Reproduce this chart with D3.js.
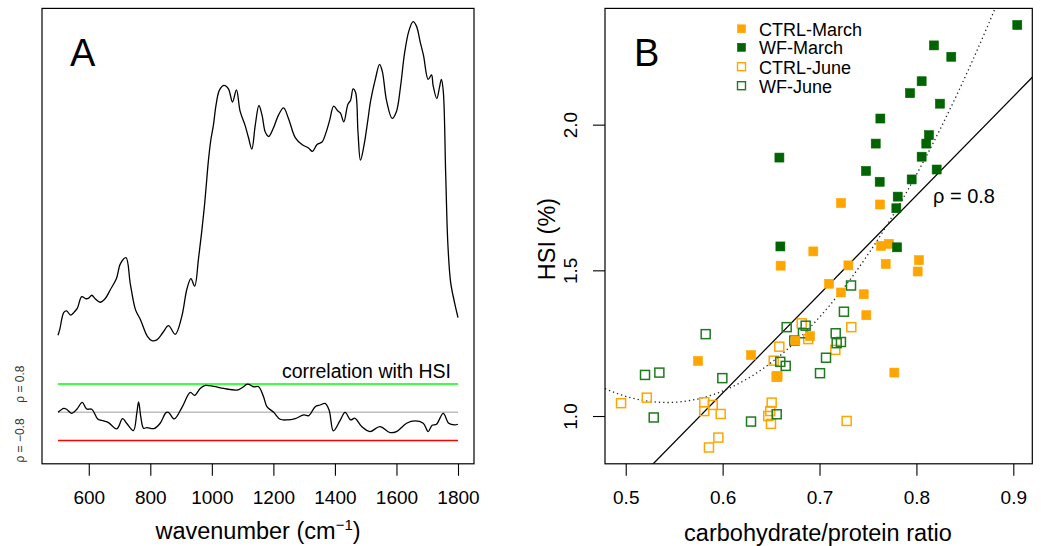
<!DOCTYPE html>
<html><head><meta charset="utf-8">
<script src="https://cdn.jsdelivr.net/npm/d3@7"></script>
<style>
body{margin:0;background:#fff;}
svg{display:block;font-family:"Liberation Sans",Arial,sans-serif;}
</style></head>
<body><svg id="c" width="1047" height="546"></svg>
<script>
// ---------- Panel A data ----------
const specWave = [500,506,519,528,541,552,563,577,591,600,610,621,637,653,670,690,703,721,735,752,768,790,805,821,841,859,881,902,919,932,944,957,975,989,997,1005,1014,1025,1040,1054,1067,1080,1092,1108,1119,1130,1141,1153,1163,1174,1185,1199,1217,1233,1249,1271,1293,1314,1327,1342,1358,1372,1383,1396,1409,1418,1429,1442,1451,1459,1467,1475,1483,1494,1507,1516,1532,1545,1554,1568,1586,1600,1613,1626,1640,1654,1665,1677,1688,1703,1714,1719,1731,1740,1746,1752,1760,1767,1776,1789,1800];
const specValue = [3.7,5.5,10.3,10.7,9.5,10.3,11.5,14.8,14.2,14.4,15.2,14.2,13.2,14.2,16.8,20,24.3,26,18.5,11,8.2,3.5,2.2,2.4,4.5,6.5,4,9,17,20,17.8,26,40,54,60,64,70,74.2,75.5,74.5,70.7,74.2,68,64,60.5,57.2,64,69.7,67,62,60.8,63,67,69,66,60.5,58.5,57.5,56.5,58.5,59.2,62.2,65.5,69.5,68.2,67.5,65,70,71.2,74.5,73.5,62,54,58,65.5,71,77.5,81.5,79.5,71,66,68,75,84.5,91,93.8,92.5,88,84,77.2,78.5,75.5,71.7,75,77.2,74,50,30,19,13,8.8];
const corrWave = [500,519,528,544,561,579,593,610,629,648,664,691,710,723,745,756,762,769,778,789,812,832,851,859,878,903,930,944,962,979,1006,1038,1082,1098,1116,1136,1152,1168,1179,1201,1222,1244,1271,1299,1315,1336,1352,1368,1381,1395,1416,1433,1451,1465,1487,1514,1546,1579,1600,1633,1660,1687,1703,1716,1730,1752,1770,1789,1800];
const corrRho = [0,0.113,0.085,-0.028,0.085,0.282,0.094,0.085,-0.188,-0.245,-0.292,-0.47,-0.179,-0.31,-0.518,-0.028,0.292,-0.122,-0.452,-0.433,-0.461,-0.31,-0.009,0,-0.188,0.141,0.565,0.48,0.678,0.762,0.734,0.678,0.631,0.696,0.8,0.725,0.725,0.442,0.16,0,-0.198,-0.216,-0.179,-0.075,-0.094,0.16,0.207,0.254,0.066,-0.527,-0.245,0,-0.216,-0.169,-0.405,-0.546,-0.405,-0.574,-0.546,-0.31,-0.245,-0.31,-0.546,-0.367,-0.339,-0.028,-0.31,-0.358,-0.339];
const refRho = [0.8, 0, -0.8];
const refColors = ["#00ff00", "#bebebe", "#ff0000"];
const xTicksA = [600,800,1000,1200,1400,1600,1800];

// ---------- Panel B data ----------
const ctrlMarchX = [0.7222,0.7624,0.6936,0.6599,0.7298,0.7635,0.7717,0.7683,0.8027,0.8013,0.7098,0.7222,0.7456,0.7483,0.6902,0.6751,0.6293,0.5746,0.6568,0.7772];
const ctrlMarchY = [1.731,1.726,1.565,1.516,1.517,1.584,1.591,1.522,1.535,1.496,1.454,1.424,1.418,1.346,1.274,1.259,1.209,1.189,1.137,1.149];
const wfMarchX = [0.9041,0.8181,0.836,0.8054,0.7934,0.8243,0.7628,0.758,0.813,0.8102,0.8054,0.6586,0.748,0.8209,0.7621,0.7951,0.7807,0.7793,0.6596,0.78];
const wfMarchY = [2.342,2.272,2.233,2.149,2.108,2.072,2.021,1.935,1.964,1.935,1.890,1.887,1.841,1.846,1.804,1.812,1.753,1.713,1.582,1.579];
const ctrlJuneX = [0.4952,0.5217,0.5811,0.5898,0.5811,0.598,0.5956,0.5859,0.6506,0.6492,0.6471,0.6499,0.728,0.6585,0.6527,0.6558,0.6816,0.6884,0.7163,0.7328];
const ctrlJuneY = [1.044,1.063,1.047,1.038,1.017,1.007,0.926,0.892,1.046,1.017,1.000,0.973,0.983,1.238,1.190,1.135,1.318,1.264,1.227,1.305];
const wfJuneX = [0.5199,0.5347,0.5825,0.5997,0.5289,0.6293,0.6558,0.6661,0.6595,0.6651,0.674,0.6829,0.6857,0.7005,0.7067,0.7167,0.7177,0.7221,0.7252,0.7325];
const wfJuneY = [1.141,1.149,1.281,1.130,0.995,0.981,1.006,1.305,1.186,1.172,1.259,1.284,1.310,1.147,1.200,1.284,1.250,1.254,1.358,1.448];
const xTicksB = [0.5,0.6,0.7,0.8,0.9];
const yTicksB = [1.0,1.5,2.0];
const linCoef = [-0.955, 3.39];          // HSI = a + b*ratio
const quadCoef = [4.511, -12.777, 11.78]; // HSI = c0 + c1*r + c2*r^2
const legendLabels = ["CTRL-March","WF-March","CTRL-June","WF-June"];

const svg = d3.select("#c");
const ORANGE = "#ffa500", DGREEN = "#006400", OGREEN = "#1f7a1f";

// ================= Panel A =================
const boxA = {l:42, r:474, t:8.4, b:463.8};
const xA = d3.scaleLinear().domain([448, 1852]).range([boxA.l, boxA.r]);
const ySpec = d3.scaleLinear().domain([0, 100]).range([348.2, 0]);
const yCorr = d3.scaleLinear().domain([-0.8, 0.8]).range([440.5, 384.1]);

svg.append("rect").attr("x", boxA.l).attr("y", boxA.t).attr("width", boxA.r-boxA.l).attr("height", boxA.b-boxA.t)
  .attr("fill","none").attr("stroke","#000").attr("stroke-width",1.2);

const gAx = svg.append("g").attr("transform", `translate(0,${boxA.b})`)
  .call(d3.axisBottom(xA).tickValues(xTicksA).tickFormat(d3.format("d")).tickSize(12).tickPadding(15).tickSizeOuter(0));
gAx.select(".domain").remove();
gAx.selectAll("line").attr("stroke","#000").attr("stroke-width",1.1);
gAx.selectAll("text").attr("font-size",19).attr("fill","#000").attr("font-family","Liberation Sans, Arial, sans-serif");

const specLine = d3.line().x((d,i)=>xA(specWave[i])).y(d=>ySpec(d)).curve(d3.curveCatmullRom.alpha(0.5));
svg.append("path").attr("d", specLine(specValue)).attr("fill","none").attr("stroke","#000").attr("stroke-width",1.3);

refRho.forEach((r,i)=>{
  svg.append("line").attr("x1", xA(500)).attr("x2", xA(1800)).attr("y1", yCorr(r)).attr("y2", yCorr(r))
    .attr("stroke", refColors[i]).attr("stroke-width", 1.5);
});
const corrLine = d3.line().x((d,i)=>xA(corrWave[i])).y(d=>yCorr(d)).curve(d3.curveCatmullRom.alpha(0.5));
svg.append("path").attr("d", corrLine(corrRho)).attr("fill","none").attr("stroke","#000").attr("stroke-width",1.3);

svg.append("text").attr("x", 451).attr("y", 377.5).attr("text-anchor","end").attr("font-size",19.5).text("correlation with HSI");
svg.append("text").attr("x", 70).attr("y", 66).attr("font-size",38).text("A");

[[0.8,"ρ = 0.8"],[-0.8,"ρ = −0.8"]].forEach(([r,t])=>{
  svg.append("text").attr("transform", `translate(24,${yCorr(r)}) rotate(-90)`).attr("text-anchor","middle")
    .attr("font-size",12).attr("fill","#333").text(t);
});

const tA = svg.append("text").attr("x", 258).attr("y", 539).attr("text-anchor","middle").attr("font-size",23.5);
tA.append("tspan").text("wavenumber (cm");
tA.append("tspan").attr("dy",-9).attr("font-size",15).text("−1");
tA.append("tspan").attr("dy",9).text(")");

// ================= Panel B =================
const boxB = {l:605, r:1032.3, t:8.4, b:463.8};
const xB = d3.scaleLinear().domain([0.4786, 0.9196]).range([boxB.l, boxB.r]);
const yB = d3.scaleLinear().domain([0.836, 2.399]).range([boxB.b, boxB.t]);

svg.append("defs").append("clipPath").attr("id","clipB").append("rect")
  .attr("x", boxB.l).attr("y", boxB.t).attr("width", boxB.r-boxB.l).attr("height", boxB.b-boxB.t);

const gBx = svg.append("g").attr("transform", `translate(0,${boxB.b})`)
  .call(d3.axisBottom(xB).tickValues(xTicksB).tickFormat(d3.format(".1f")).tickSize(12).tickPadding(15).tickSizeOuter(0));
gBx.select(".domain").remove();
gBx.selectAll("line").attr("stroke","#000").attr("stroke-width",1.1);
gBx.selectAll("text").attr("font-size",19).attr("fill","#000").attr("font-family","Liberation Sans, Arial, sans-serif");

const gBy = svg.append("g").attr("transform", `translate(${boxB.l},0)`)
  .call(d3.axisLeft(yB).tickValues(yTicksB).tickFormat(d3.format(".1f")).tickSize(12).tickSizeOuter(0));
gBy.select(".domain").remove();
gBy.selectAll("line").attr("stroke","#000").attr("stroke-width",1.1);
gBy.selectAll("text").attr("font-size",19).attr("fill","#000").attr("font-family","Liberation Sans, Arial, sans-serif")
  .attr("x",0).attr("dy",0).attr("text-anchor","middle").attr("transform","translate(-35,0) rotate(-90)").attr("dominant-baseline","central");

const plotB = svg.append("g").attr("clip-path","url(#clipB)");
// fitted lines
const xs = d3.range(0, 201).map(i => xB.domain()[0] + (xB.domain()[1]-xB.domain()[0])*i/200);
plotB.append("line").attr("x1", xB(xs[0])).attr("y1", yB(linCoef[0]+linCoef[1]*xs[0]))
  .attr("x2", xB(xs[200])).attr("y2", yB(linCoef[0]+linCoef[1]*xs[200])).attr("stroke","#000").attr("stroke-width",1.3);
plotB.append("path").attr("d", d3.line().x(d=>xB(d)).y(d=>yB(quadCoef[0]+quadCoef[1]*d+quadCoef[2]*d*d))(xs))
  .attr("fill","none").attr("stroke","#222").attr("stroke-width",1.3).attr("stroke-dasharray","1.3,3");

const S = 9;
function squares(xArr, yArr, color, filled){
  plotB.selectAll(null).data(xArr).enter().append("rect")
    .attr("x",(d,i)=>xB(d)-S/2).attr("y",(d,i)=>yB(yArr[i])-S/2).attr("width",S).attr("height",S)
    .attr("fill", filled ? color : "none").attr("stroke", color).attr("stroke-width", filled ? 0.6 : 1.5);
}
squares(ctrlJuneX, ctrlJuneY, ORANGE, false);
squares(wfJuneX, wfJuneY, OGREEN, false);
squares(ctrlMarchX, ctrlMarchY, ORANGE, true);
squares(wfMarchX, wfMarchY, DGREEN, true);

svg.append("rect").attr("x", boxB.l).attr("y", boxB.t).attr("width", boxB.r-boxB.l).attr("height", boxB.b-boxB.t)
  .attr("fill","none").attr("stroke","#000").attr("stroke-width",1.2);

// legend
const legColors = [ORANGE, DGREEN, ORANGE, OGREEN];
const legFilled = [true, true, false, false];
const legY = [29.3, 47.8, 67.2, 86.2];
legendLabels.forEach((t,i)=>{
  svg.append("rect").attr("x", 742-S/2).attr("y", legY[i]-S/2).attr("width", S-1).attr("height", S-1)
    .attr("fill", legFilled[i] ? legColors[i] : "none").attr("stroke", legColors[i]).attr("stroke-width", legFilled[i]?0.6:1.4);
  svg.append("text").attr("x", 759).attr("y", legY[i]+6.5).attr("font-size",18).text(t);
});

svg.append("text").attr("x", 634).attr("y", 66).attr("font-size",38).text("B");
svg.append("text").attr("x", 933).attr("y", 203).attr("font-size",20).text("ρ = 0.8");

svg.append("text").attr("x", 818).attr("y", 541).attr("text-anchor","middle").attr("font-size",23.5).text("carbohydrate/protein ratio");
svg.append("text").attr("transform","translate(555,239) rotate(-90)").attr("text-anchor","middle").attr("font-size",23.5).text("HSI (%)");
</script></body></html>
